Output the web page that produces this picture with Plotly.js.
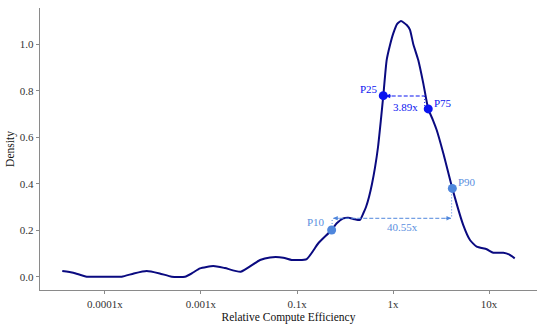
<!DOCTYPE html>
<html>
<head>
<meta charset="utf-8">
<script src="https://cdn.plot.ly/plotly-3.0.1.min.js"></script>
<style>html,body{margin:0;padding:0;background:#fff;}#chart{width:545px;height:327px;}</style>
</head>
<body>
<div id="chart"></div>
<script>
// x positions are in axis units (one unit per labelled tick step)
const curveX = [-3.445, -3.33, -3.19, -3.0, -2.826, -2.70, -2.566, -2.43, -2.305, -2.167, -2.09, -2.01, -1.872, -1.75, -1.586, -1.385, -1.281, -1.143, -1.055, -0.899, -0.778, -0.639, -0.586, -0.518, -0.466, -0.396, -0.344, -0.309, -0.281, -0.25, -0.219, -0.188, -0.156, -0.125, -0.101, -0.066, -0.031, 0.003, 0.042, 0.083, 0.143, 0.177, 0.211, 0.263, 0.315, 0.367, 0.416, 0.455, 0.524, 0.618, 0.732, 0.802, 0.872, 0.976, 1.045, 1.149, 1.208, 1.268];
const curveY = [0.0245, 0.017, 0.0, 0.0, 0.0, 0.014, 0.0245, 0.014, 0.0, 0.0, 0.016, 0.036, 0.046, 0.037, 0.0215, 0.072, 0.083, 0.082, 0.072, 0.076, 0.144, 0.201, 0.23, 0.251, 0.254, 0.247, 0.244, 0.273, 0.300, 0.343, 0.399, 0.468, 0.558, 0.679, 0.779, 0.932, 0.997, 1.047, 1.087, 1.100, 1.083, 1.062, 1.001, 0.932, 0.833, 0.722, 0.674, 0.631, 0.531, 0.380, 0.222, 0.158, 0.129, 0.118, 0.103, 0.103, 0.096, 0.079];

const tickPos = [-3, -2, -1, 0, 1];
const tickLabels = ['0.0001x', '0.001x', '0.1x', '1x', '10x'];

const pctNames = ['P10', 'P25', 'P75', 'P90'];
const pctX = [-0.639, -0.101, 0.367, 0.618];
const pctY = [0.201, 0.779, 0.722, 0.380];

const iqrRatio = '3.89x';
const p1090Ratio = '40.55x';

const dark = '#4f86dc';
const darkText = '#5b8fe0';
const blue = '#0a14f0';
const navy = '#0a0a80';
const font = 'Liberation Serif, Times New Roman, serif';

const traces = [
  {x: curveX, y: curveY, mode: 'lines', line: {color: navy, width: 2, shape: 'spline', smoothing: 0.5}, hoverinfo: 'skip'},
  // dotted connectors
  {x: [pctX[0] + 0.005, pctX[0] + 0.005], y: [pctY[0], 0.2513], mode: 'lines', line: {color: dark, width: 1, dash: '1px,2px'}},
  {x: [0.611, 0.611], y: [pctY[3], 0.2513], mode: 'lines', line: {color: dark, width: 1, dash: '1px,2px'}},
  {x: [0.33, 0.33], y: [0.7775, pctY[2]], mode: 'lines', line: {color: blue, width: 1, dash: '1px,2px'}},
  // dashed ratio lines
  {x: [-0.622, 0.604], y: [0.2513, 0.2513], mode: 'lines', line: {color: dark, width: 1, dash: '4px,2px'}},
  {x: [-0.076, 0.328], y: [0.7775, 0.7775], mode: 'lines', line: {color: blue, width: 1.2, dash: '4px,2px'}},
  // percentile points
  {x: pctX, y: pctY, mode: 'markers', marker: {size: 9, color: [dark, blue, blue, dark]}}
];

function head(x, y, ax, color) {
  return {x: x, y: y, xref: 'x', yref: 'y', ax: ax, ay: 0, text: '', showarrow: true,
          arrowhead: 2, arrowsize: 0.9, arrowwidth: 1, arrowcolor: color};
}
function label(x, y, text, color) {
  return {x: x, y: y, xref: 'x', yref: 'y', text: text, showarrow: false,
          font: {family: font, size: 11, color: color}};
}

const annotations = [
  head(-0.622, 0.2513, 7, dark),
  head(0.604, 0.2513, -7, dark),
  head(-0.076, 0.7775, 7, blue),
  label(-0.802, 0.234, pctNames[0], darkText),
  label(-0.254, 0.807, pctNames[1], blue),
  label(0.521, 0.749, pctNames[2], blue),
  label(0.776, 0.409, pctNames[3], darkText),
  label(0.125, 0.731, iqrRatio, blue),
  label(0.094, 0.215, p1090Ratio, darkText)
];

const layout = {
  width: 545, height: 327,
  margin: {l: 40, r: 8, t: 8, b: 37},
  paper_bgcolor: '#fff', plot_bgcolor: '#fff',
  showlegend: false,
  font: {family: font, size: 11, color: '#333'},
  xaxis: {
    range: [-3.677, 1.5], tickvals: tickPos, ticktext: tickLabels,
    showgrid: false, zeroline: false, showline: true, linecolor: '#8a8a8a', linewidth: 1.3,
    ticks: 'outside', ticklen: 3, tickcolor: '#8a8a8a', tickwidth: 1,
    tickfont: {family: font, size: 11, color: '#333'},
    title: {text: 'Relative Compute Efficiency', font: {family: font, size: 11.5, color: '#111'}, standoff: 4}
  },
  yaxis: {
    range: [-0.0572, 1.156], tickvals: [0, 0.2, 0.4, 0.6, 0.8, 1.0], tickformat: '.1f',
    showgrid: false, zeroline: false, showline: true, linecolor: '#8a8a8a', linewidth: 1.3,
    ticks: 'outside', ticklen: 3, tickcolor: '#8a8a8a', tickwidth: 1,
    tickfont: {family: font, size: 11, color: '#333'},
    title: {text: 'Density', font: {family: font, size: 11.5, color: '#111'}, standoff: 2}
  },
  annotations: annotations
};

Plotly.newPlot('chart', traces, layout, {displayModeBar: false, staticPlot: true});
</script>
</body>
</html>
